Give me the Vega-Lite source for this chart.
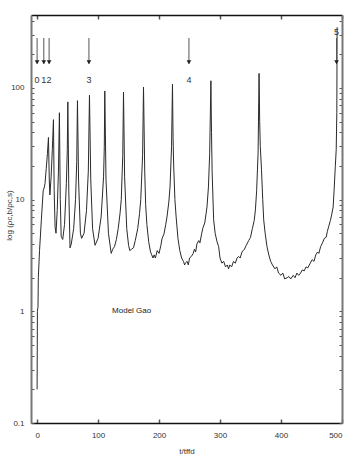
{
  "$schema": "https://vega.github.io/schema/vega-lite/v6.json",
  "width": 311,
  "height": 408,
  "autosize": "none",
  "padding": {"left": 31, "top": 15, "right": 12, "bottom": 40},
  "background": "white",
  "config": {
    "view": {"stroke": null},
    "font": "Liberation Sans",
    "text": {"font": "Liberation Sans"},
    "axis": {"grid": false, "labelFont": "Liberation Sans", "titleFont": "Liberation Sans", "labelColor": "#333", "titleColor": "#333", "titleFontWeight": "normal", "tickColor": "#555"}
  },
  "datasets": {
    "curve": [
      {"t": 0, "v": 0.2}, {"t": 0.3, "v": 0.5}, {"t": 0.5, "v": 1.0}, {"t": 1.5, "v": 1.1}, {"t": 2, "v": 2.0}, {"t": 4, "v": 3.5}, {"t": 7, "v": 6.6}, {"t": 10, "v": 12},
      {"t": 12, "v": 13}, {"t": 13, "v": 14}, {"t": 15, "v": 19}, {"t": 17, "v": 26}, {"t": 18.6, "v": 36}, {"t": 20, "v": 15}, {"t": 21, "v": 11}, {"t": 23, "v": 16}, {"t": 25, "v": 28},
      {"t": 26.8, "v": 52}, {"t": 28, "v": 12}, {"t": 29.5, "v": 5.7}, {"t": 31, "v": 5.0}, {"t": 33, "v": 8}, {"t": 35, "v": 18}, {"t": 36.6, "v": 60},
      {"t": 38, "v": 10}, {"t": 39.5, "v": 4.7}, {"t": 42, "v": 4.4}, {"t": 45, "v": 6}, {"t": 48, "v": 14}, {"t": 49.5, "v": 28}, {"t": 50.4, "v": 75},
      {"t": 52, "v": 12}, {"t": 54, "v": 3.7}, {"t": 56, "v": 4.0}, {"t": 60, "v": 5.5}, {"t": 63, "v": 10}, {"t": 65, "v": 22}, {"t": 66.2, "v": 77},
      {"t": 68, "v": 15}, {"t": 71, "v": 5.0}, {"t": 73, "v": 4.5}, {"t": 77, "v": 5.0}, {"t": 81, "v": 8}, {"t": 84, "v": 18}, {"t": 85.9, "v": 86},
      {"t": 88, "v": 15}, {"t": 91, "v": 5.5}, {"t": 95, "v": 3.9}, {"t": 100, "v": 4.5}, {"t": 105, "v": 7}, {"t": 109, "v": 16}, {"t": 110.2, "v": 30}, {"t": 111, "v": 94},
      {"t": 113, "v": 15}, {"t": 117, "v": 5.0}, {"t": 121.5, "v": 3.3}, {"t": 124, "v": 3.6}, {"t": 127, "v": 3.8}, {"t": 130, "v": 4.4}, {"t": 133, "v": 5.5}, {"t": 136, "v": 7.5}, {"t": 138, "v": 10}, {"t": 140.5, "v": 25}, {"t": 141.7, "v": 92},
      {"t": 143.5, "v": 16}, {"t": 147, "v": 5.5}, {"t": 150, "v": 3.9}, {"t": 152, "v": 3.5}, {"t": 155, "v": 3.6}, {"t": 158, "v": 3.7}, {"t": 161, "v": 4.3}, {"t": 165, "v": 5.5}, {"t": 168, "v": 7.5}, {"t": 170, "v": 10}, {"t": 173, "v": 25}, {"t": 174.5, "v": 102},
      {"t": 176.5, "v": 18}, {"t": 178, "v": 9}, {"t": 180, "v": 6}, {"t": 183, "v": 4.2}, {"t": 186, "v": 3.4}, {"t": 188, "v": 3.2}, {"t": 190, "v": 3.0}, {"t": 192, "v": 3.2}, {"t": 194, "v": 3.0}, {"t": 197, "v": 3.5}, {"t": 200, "v": 3.3}, {"t": 203, "v": 3.9}, {"t": 205, "v": 4.5}, {"t": 208, "v": 4.9}, {"t": 211, "v": 6.0}, {"t": 213, "v": 7}, {"t": 216, "v": 9.5}, {"t": 218, "v": 13}, {"t": 220.5, "v": 30}, {"t": 222, "v": 108},
      {"t": 223, "v": 35}, {"t": 224, "v": 20}, {"t": 226, "v": 10}, {"t": 228, "v": 7}, {"t": 231, "v": 4.5}, {"t": 234, "v": 3.5}, {"t": 237, "v": 3.0}, {"t": 240, "v": 2.8}, {"t": 242, "v": 2.6}, {"t": 243, "v": 2.7}, {"t": 246, "v": 2.8}, {"t": 248, "v": 2.6}, {"t": 250, "v": 3.0}, {"t": 253, "v": 3.1}, {"t": 256, "v": 3.3}, {"t": 258, "v": 3.6}, {"t": 260, "v": 3.4}, {"t": 262, "v": 4.0}, {"t": 265, "v": 4.3}, {"t": 267, "v": 4.1}, {"t": 270, "v": 5.0}, {"t": 272, "v": 5.6}, {"t": 275, "v": 6.2}, {"t": 278.6, "v": 8.6}, {"t": 281, "v": 13}, {"t": 283, "v": 26}, {"t": 285, "v": 116},
      {"t": 286, "v": 40}, {"t": 287, "v": 18}, {"t": 289.5, "v": 6.6}, {"t": 292, "v": 5.0}, {"t": 295, "v": 4.2}, {"t": 297.7, "v": 3.8}, {"t": 300, "v": 3.0}, {"t": 303, "v": 2.7}, {"t": 306, "v": 2.8}, {"t": 309, "v": 2.5}, {"t": 312, "v": 2.6}, {"t": 314, "v": 2.4}, {"t": 316, "v": 2.6}, {"t": 319, "v": 2.5}, {"t": 322, "v": 2.8}, {"t": 325, "v": 2.7}, {"t": 328, "v": 3.0}, {"t": 330.5, "v": 3.1}, {"t": 333, "v": 3.0}, {"t": 336, "v": 3.4}, {"t": 340, "v": 3.6}, {"t": 343, "v": 3.9}, {"t": 347, "v": 4.3}, {"t": 350, "v": 4.6}, {"t": 353, "v": 5.5}, {"t": 356, "v": 6.5}, {"t": 358, "v": 8.1}, {"t": 360, "v": 12}, {"t": 362.4, "v": 26}, {"t": 364, "v": 135},
      {"t": 365, "v": 50}, {"t": 366, "v": 30}, {"t": 368, "v": 18.5}, {"t": 370, "v": 10}, {"t": 371.6, "v": 6.6}, {"t": 374, "v": 5.0}, {"t": 377, "v": 3.8}, {"t": 380, "v": 3.2}, {"t": 383, "v": 2.8}, {"t": 386, "v": 2.6}, {"t": 390, "v": 2.4}, {"t": 393, "v": 2.5}, {"t": 396, "v": 2.2}, {"t": 400, "v": 2.1}, {"t": 403, "v": 2.2}, {"t": 406, "v": 1.95}, {"t": 410, "v": 2.0}, {"t": 413, "v": 2.05}, {"t": 416, "v": 1.95}, {"t": 420, "v": 2.1}, {"t": 423, "v": 2.0}, {"t": 426, "v": 2.2}, {"t": 429, "v": 2.1}, {"t": 432, "v": 2.2}, {"t": 435, "v": 2.35}, {"t": 438, "v": 2.3}, {"t": 441, "v": 2.5}, {"t": 444, "v": 2.45}, {"t": 448, "v": 2.7}, {"t": 451, "v": 2.9}, {"t": 454, "v": 2.8}, {"t": 457, "v": 3.2}, {"t": 460, "v": 3.4}, {"t": 462, "v": 3.3}, {"t": 465, "v": 3.8}, {"t": 468, "v": 4.1}, {"t": 471, "v": 4.5}, {"t": 474, "v": 4.6}, {"t": 476, "v": 5.2}, {"t": 478, "v": 5.7}, {"t": 481, "v": 6.5}, {"t": 483, "v": 7.3}, {"t": 485.5, "v": 8.6}, {"t": 487, "v": 12}, {"t": 489, "v": 19.7}, {"t": 490.5, "v": 28}, {"t": 491.5, "v": 60}, {"t": 492, "v": 350}
    ],
    "arrows": [
      {"t": 0, "top": 280, "bottom": 165, "tip": 170, "label": "0", "ly": 117},
      {"t": 11, "top": 280, "bottom": 165, "tip": 170, "label": "1", "ly": 117},
      {"t": 19.7, "top": 280, "bottom": 165, "tip": 170, "label": "2", "ly": 117},
      {"t": 85, "top": 280, "bottom": 165, "tip": 170, "label": "3", "ly": 117},
      {"t": 249, "top": 280, "bottom": 165, "tip": 170, "label": "4", "ly": 117},
      {"t": 491, "top": 280, "bottom": 165, "tip": 170, "label": "5", "ly": 316}
    ],
    "note": [{"t": 123, "v": 1.0, "text": "Model Gao"}]
  },
  "resolve": {"axis": {"x": "independent", "y": "independent"}},
  "layer": [
    {
      "data": {"name": "curve"},
      "mark": {"type": "line", "stroke": "#2a2a2a", "strokeWidth": 1, "interpolate": "linear"},
      "encoding": {
        "x": {"field": "t", "type": "quantitative", "scale": {"domain": [-10, 500], "nice": false, "zero": false},
          "axis": {"orient": "bottom", "values": [0, 100, 200, 300, 400, 500], "tickSize": -4, "labelPadding": 12, "labelFontSize": 8, "title": "t/tffd", "titleFontSize": 8, "titlePadding": 8, "domainColor": "#111", "domainWidth": 1.5, "tickWidth": 1.5}},
        "y": {"field": "v", "type": "quantitative", "scale": {"type": "log", "domain": [0.1, 450], "nice": false},
          "axis": {"orient": "left", "values": [0.1, 0.2, 0.3, 0.4, 0.5, 0.6, 0.7, 0.8, 0.9, 1, 2, 3, 4, 5, 6, 7, 8, 9, 10, 20, 30, 40, 50, 60, 70, 80, 90, 100, 200, 300, 400], "format": "~g", "labelExpr": "(datum.value == 0.1 || datum.value == 1 || datum.value == 10 || datum.value == 100) ? datum.label : ''", "tickSize": -3, "labelPadding": 10, "labelFontSize": 8, "title": "log (ρc,b/ρc,s)", "titleFontSize": 8, "titleAngle": -90, "titleX": -22, "titleY": 200, "titleAlign": "center", "titleBaseline": "middle", "domainColor": "#777", "domainWidth": 2}}
      }
    },
    {
      "data": {"name": "arrows"},
      "mark": {"type": "rule", "stroke": "#555", "strokeWidth": 1},
      "encoding": {
        "x": {"field": "t", "type": "quantitative",
          "axis": {"orient": "top", "values": [0, 100, 200, 300, 400, 500], "labels": false, "title": null, "tickSize": -4, "domainColor": "#111", "domainWidth": 1.5, "tickWidth": 1.5}},
        "y": {"field": "top", "type": "quantitative",
          "axis": {"orient": "right", "values": [0.1, 0.2, 0.3, 0.4, 0.5, 0.6, 0.7, 0.8, 0.9, 1, 2, 3, 4, 5, 6, 7, 8, 9, 10, 20, 30, 40, 50, 60, 70, 80, 90, 100, 200, 300, 400], "labels": false, "title": null, "tickSize": -3, "domainColor": "#777", "domainWidth": 2}},
        "y2": {"field": "bottom"}
      }
    },
    {
      "data": {"name": "arrows"},
      "mark": {"type": "point", "shape": "triangle-down", "filled": true, "color": "#222", "fill": "#222", "size": 22, "opacity": 1},
      "encoding": {
        "x": {"field": "t", "type": "quantitative", "axis": null},
        "y": {"field": "tip", "type": "quantitative", "axis": null}
      }
    },
    {
      "data": {"name": "arrows"},
      "mark": {"type": "text", "fontSize": 9, "color": "#333", "fill": "#333", "baseline": "middle", "align": "center"},
      "encoding": {
        "x": {"field": "t", "type": "quantitative", "axis": null},
        "y": {"field": "ly", "type": "quantitative", "axis": null},
        "text": {"field": "label"}
      }
    },
    {
      "data": {"name": "note"},
      "mark": {"type": "text", "fontSize": 8, "color": "#222", "fill": "#222", "baseline": "middle", "align": "left"},
      "encoding": {
        "x": {"field": "t", "type": "quantitative", "axis": null},
        "y": {"field": "v", "type": "quantitative", "axis": null},
        "text": {"field": "text"}
      }
    }
  ]
}
